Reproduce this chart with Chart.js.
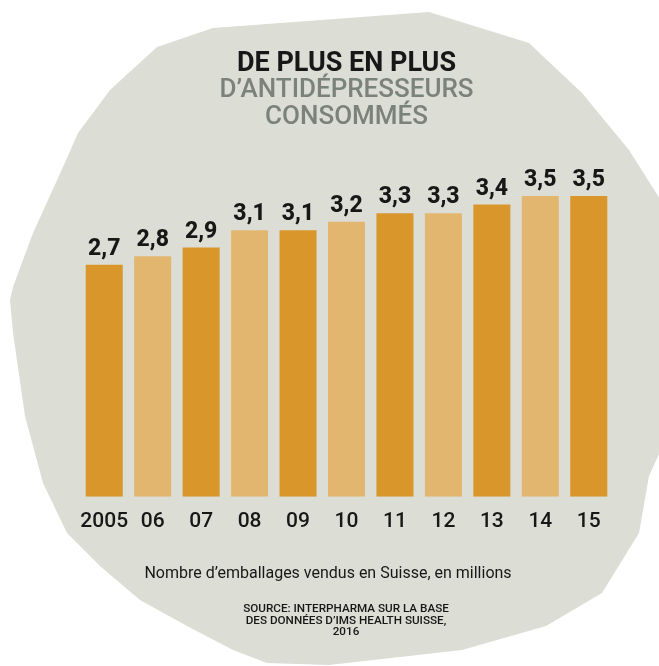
<!DOCTYPE html>
<html>
<head>
<meta charset="utf-8">
<script src="https://cdn.jsdelivr.net/npm/chart.js@4.4.0/dist/chart.umd.min.js"></script>
<style>
  html, body { margin: 0; padding: 0; background: #ffffff; }
  #wrap { width: 659px; height: 666px; position: relative; }
  canvas { display: block; }
</style>
</head>
<body>
<div id="wrap"><canvas id="chart" width="659" height="666"></canvas></div>
<script>
// ---- data ----
const categories = ['2005', '06', '07', '08', '09', '10', '11', '12', '13', '14', '15'];
const values = [2.7, 2.8, 2.9, 3.1, 3.1, 3.2, 3.3, 3.3, 3.4, 3.5, 3.5];
const titleLine = 'DE PLUS EN PLUS';
const subtitleLines = ['D\u2019ANTIDÉPRESSEURS', 'CONSOMMÉS'];
const captionText = 'Nombre d\u2019emballages vendus en Suisse, en millions';
const sourceLines = ['SOURCE: INTERPHARMA SUR LA BASE', 'DES DONNÉES D\u2019IMS HEALTH SUISSE,', '2016'];

// ---- styles ----
const DARK = '#d9962b';
const LIGHT = '#e3b66f';
const BG = '#dcddd5';
const TEXT = '#171717';
const GREY_TITLE = '#7a8279';
const FONT = 'Roboto, sans-serif';

const barColors = values.map((v, i) => (i % 2 === 0 ? DARK : LIGHT));
const fmt = v => v.toFixed(1).replace('.', ',');

const backgroundShape = {
  id: 'backgroundShape',
  beforeDraw(chart) {
    const ctx = chart.ctx;
    const pts = [[213,28],[429,12],[529,43],[582,93],[629,150],[670,215],[670,430],[649,476],[639,533],
      [602,593],[546,626],[462,650],[329,665],[267,663],[233,650],[187,626],[140,600],[100,566],[67,533],
      [43,483],[25,416],[13,333],[10,300],[13,287],[33,233],[63,167],[78,133],[110,90],[157,47]];
    ctx.save();
    ctx.fillStyle = '#ffffff';
    ctx.fillRect(0, 0, chart.width, chart.height);
    ctx.beginPath();
    pts.forEach(([x, y], i) => (i ? ctx.lineTo(x, y) : ctx.moveTo(x, y)));
    ctx.closePath();
    ctx.fillStyle = BG;
    ctx.fill();
    ctx.restore();
  }
};

const valueLabels = {
  id: 'valueLabels',
  afterDatasetsDraw(chart) {
    const ctx = chart.ctx;
    const meta = chart.getDatasetMeta(0);
    ctx.save();
    ctx.font = '800 23px ' + FONT;
    ctx.fillStyle = TEXT;
    ctx.textAlign = 'center';
    ctx.textBaseline = 'alphabetic';
    meta.data.forEach((bar, i) => {
      ctx.fillText(fmt(values[i]), bar.x, bar.y - 10);
    });
    ctx.restore();
  }
};

const footerText = {
  id: 'footerText',
  afterDraw(chart) {
    const ctx = chart.ctx;
    ctx.save();
    ctx.fillStyle = TEXT;
    ctx.textAlign = 'center';
    ctx.textBaseline = 'alphabetic';
    ctx.font = '16px ' + FONT;
    ctx.fillText(captionText, 328, 578);
    ctx.font = '500 11.7px ' + FONT;
    sourceLines.forEach((line, i) => ctx.fillText(line, 346, 612 + i * 11.7));
    ctx.restore();
  }
};

new Chart(document.getElementById('chart'), {
  type: 'bar',
  data: {
    labels: categories,
    datasets: [{
      data: values,
      backgroundColor: barColors,
      borderWidth: 0,
      categoryPercentage: 1,
      barPercentage: 0.764
    }]
  },
  options: {
    responsive: false,
    devicePixelRatio: 1,
    animation: false,
    layout: { padding: { left: 80, right: 46, top: 0, bottom: 120 } },
    plugins: {
      legend: { display: false },
      tooltip: { enabled: false },
      title: {
        display: true,
        text: titleLine,
        color: TEXT,
        font: { family: FONT, size: 27, weight: 'bold', lineHeight: 0.98 },
        padding: { top: 51, bottom: 0 }
      },
      subtitle: {
        display: true,
        text: subtitleLines,
        color: GREY_TITLE,
        font: { family: FONT, size: 26, weight: '500', lineHeight: 1.02 },
        padding: { top: 0, bottom: 22.5 }
      }
    },
    scales: {
      x: {
        grid: { display: false, drawTicks: false },
        border: { display: false },
        ticks: {
          color: TEXT,
          font: { family: FONT, size: 21, weight: '500' },
          padding: 12,
          maxRotation: 0,
          autoSkip: false
        }
      },
      y: {
        display: false,
        min: 0,
        max: 4.0
      }
    }
  },
  plugins: [backgroundShape, valueLabels, footerText]
});
</script>
</body>
</html>
